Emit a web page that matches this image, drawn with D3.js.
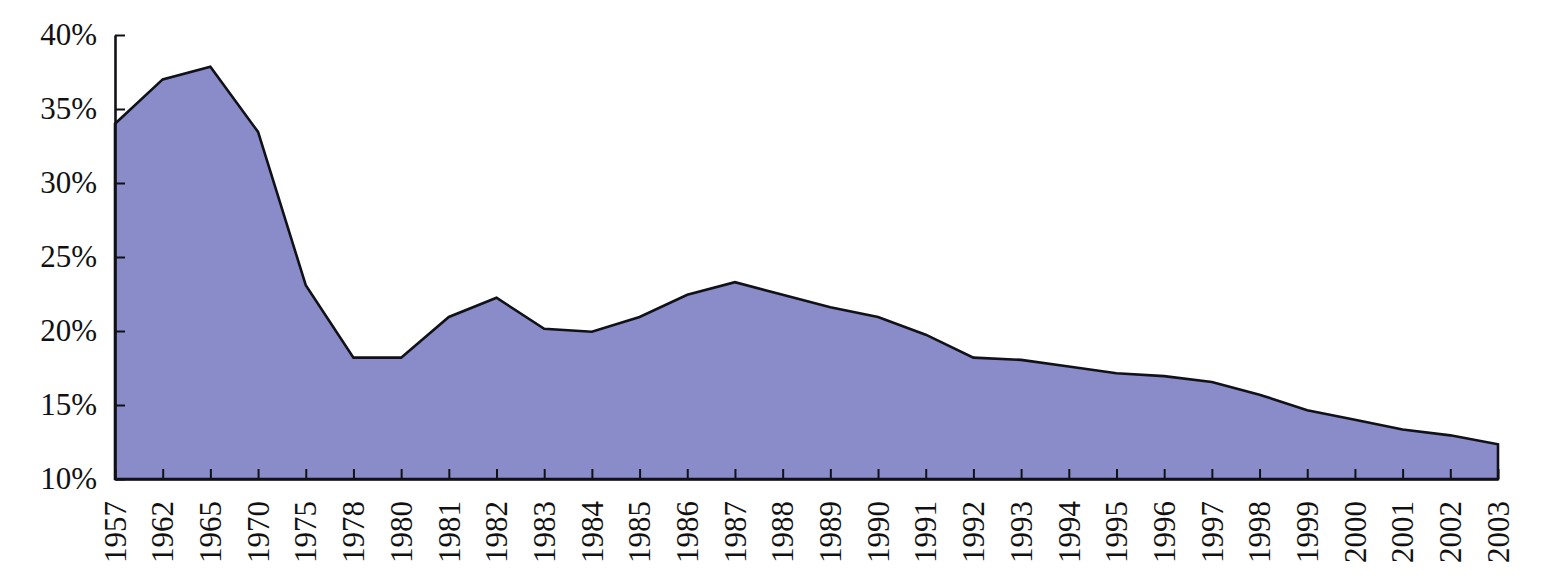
<!DOCTYPE html>
<html>
<head>
<meta charset="utf-8">
<script src="https://cdn.jsdelivr.net/npm/d3@7"></script>
<style>
    body { margin: 0; background: white; }
    svg { display: block; }
</style>
</head>
<body>
<div id="myChart"></div>
<script>

// --- Data ---------------------------------------------------------------------
const myYears = ['1957', '1962', '1965', '1970', '1975', '1978', '1980', '1981', '1982', '1983',
                 '1984', '1985', '1986', '1987', '1988', '1989', '1990', '1991', '1992', '1993',
                 '1994', '1995', '1996', '1997', '1998', '1999', '2000', '2001', '2002', '2003'];

const myShares = [34.0, 37.0, 37.85, 33.45, 23.1, 18.2, 18.2, 20.95, 22.25, 20.15,
                  19.95, 20.95, 22.45, 23.3, 22.45, 21.6, 20.95, 19.75, 18.2, 18.05,
                  17.6, 17.15, 16.95, 16.55, 15.7, 14.65, 14.0, 13.35, 12.95, 12.35];

const myYTicks = [10, 15, 20, 25, 30, 35, 40];

let myData = myYears.map((d, i) => ({year: d, value: myShares[i]}));

// --- Chart --------------------------------------------------------------------
const width = 1549;
const height = 588;
const margin = {top: 35, right: 51, bottom: 109, left: 115};

const mySVG = d3.select('#myChart')
    .append('svg')
        .attr('width', width)
        .attr('height', height)
        .attr('viewBox', [0, 0, width, height]);

let x = d3.scalePoint()
    .domain(myYears)
    .range([margin.left, width - margin.right]);

let y = d3.scaleLinear()
    .domain([10, 40])
    .range([height - margin.bottom, margin.top]);

// filled area, outlined in black
let myArea = d3.area()
    .x(d => x(d.year))
    .y0(y(10))
    .y1(d => y(d.value));

mySVG
    .append('path')
        .datum(myData)
        .attr('d', myArea)
        .style('fill', '#8a8bc9')
        .style('stroke', '#111118')
        .style('stroke-width', 2.6)
        .style('stroke-linejoin', 'miter');

// --- Axes ---------------------------------------------------------------------
let myYAxis = mySVG
    .append('g')
        .attr('transform', `translate(${margin.left},0)`)
        .call(d3.axisLeft(y)
            .tickValues(myYTicks)
            .tickFormat(d => d + '%')
            .tickSizeInner(-10)
            .tickSizeOuter(0)
            .tickPadding(18));

let myXAxis = mySVG
    .append('g')
        .attr('transform', `translate(0,${height - margin.bottom})`)
        .call(d3.axisBottom(x)
            .tickSizeInner(-10)
            .tickSizeOuter(0));

myXAxis.selectAll('text')
    .attr('transform', 'rotate(-90)')
    .attr('x', -22)
    .attr('y', 0)
    .attr('dy', '0.33em')
    .attr('text-anchor', 'end');

[myYAxis, myXAxis].forEach(ax => {
    ax
        .attr('font-family', null)
        .attr('font-size', null);
    ax.select('.domain')
        .style('stroke', '#111118')
        .style('stroke-width', 2.6);
    ax.selectAll('.tick line')
        .style('stroke', '#111118')
        .style('stroke-width', 2);
    ax.selectAll('text')
        .attr('font-size', 31)
        .style('font-family', "'Liberation Serif'")
        .style('fill', '#111');
});

</script>
</body>
</html>
